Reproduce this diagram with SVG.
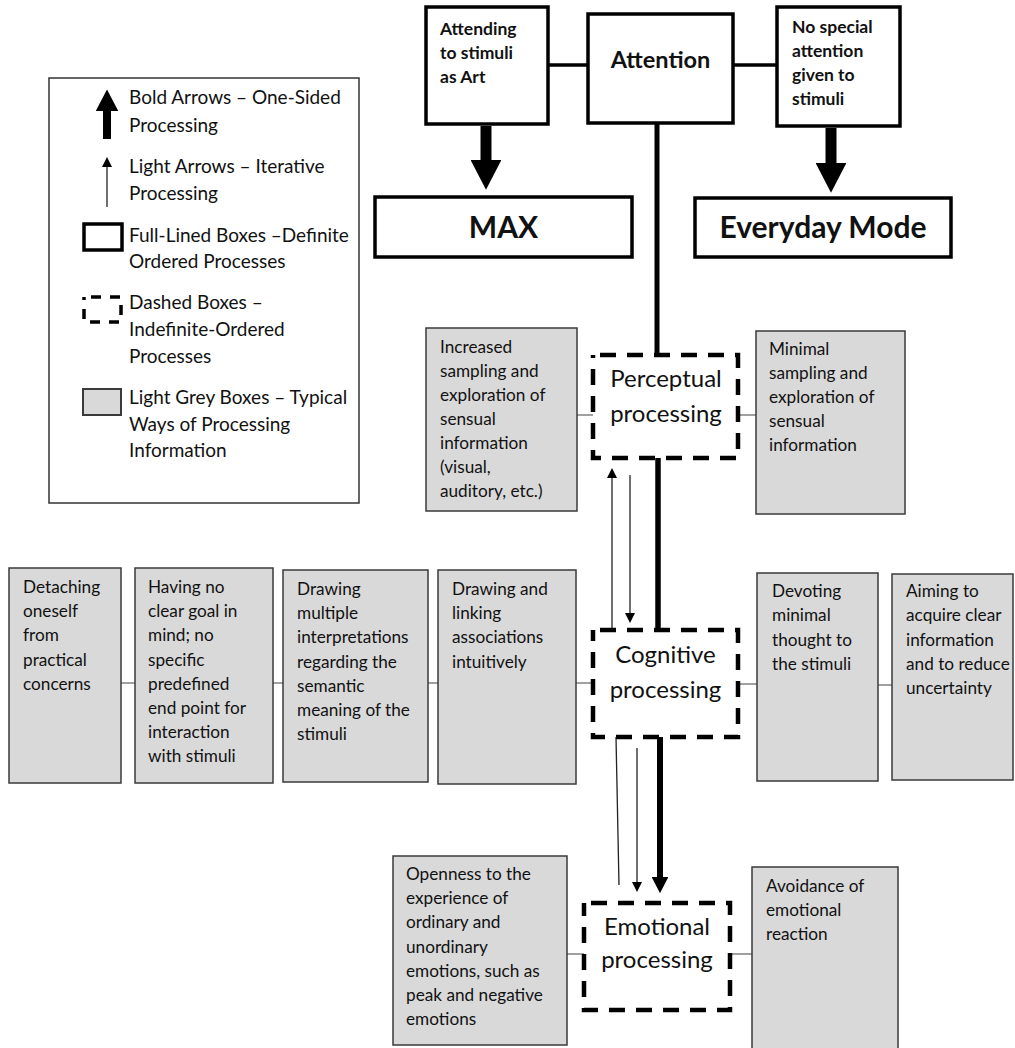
<svg xmlns="http://www.w3.org/2000/svg" width="1015" height="1048" viewBox="0 0 1015 1048">
<defs>
<style>
text{font-family:Lato,"Liberation Sans",sans-serif;fill:#111}
.full{fill:#fff;stroke:#000;stroke-width:3.5}
.dash{fill:#fff;stroke:#000;stroke-width:4.5;stroke-dasharray:16 11;stroke-dashoffset:20}
.grey{fill:#d9d9d9;stroke:#3a3a3a;stroke-width:1.5}
.gt{font-size:17.2px}
.lg{font-size:19px}
.big{font-size:24px;text-anchor:middle}
.bl{font-size:17.5px;font-weight:bold}
.att{font-size:23.5px;font-weight:bold;text-anchor:middle}
.mode{font-size:30px;font-weight:bold;text-anchor:middle}
.conn{stroke:#808080;stroke-width:1.5;fill:none}
.solid{stroke:#000;stroke-width:3.5;fill:none}
.bold{stroke:#000;fill:none;marker-end:url(#bh)}
.thin{stroke:#222;stroke-width:1.3;fill:none}
.thinA{stroke:#222;stroke-width:1.3;fill:none;marker-end:url(#th)}
</style>
<marker id="bh" markerUnits="strokeWidth" viewBox="0 0 2.7 2.8" markerWidth="2.7" markerHeight="2.8" refX="0" refY="1.4" orient="auto">
<path d="M0,0 L2.7,1.4 L0,2.8 z" fill="#000"/>
</marker>
<marker id="th" markerUnits="userSpaceOnUse" viewBox="0 0 10 10" markerWidth="10" markerHeight="10" refX="0" refY="5" orient="auto">
<path d="M0,0 L10,5 L0,10 z" fill="#000"/>
</marker>
</defs>
<rect width="1015" height="1048" fill="#fff"/>

<g id="connectors">
<line class="solid" x1="548" y1="65" x2="588" y2="65"/>
<line class="solid" x1="733" y1="65" x2="777" y2="65"/>
<line class="bold" stroke-width="11" x1="486" y1="126" x2="486" y2="160"/>
<line class="bold" stroke-width="11" x1="831" y1="128" x2="831" y2="163"/>
<line stroke="#000" stroke-width="5" x1="657" y1="123" x2="657" y2="355"/>
<line class="conn" x1="577" y1="415" x2="593" y2="415"/>
<line class="conn" x1="738" y1="415" x2="756" y2="415"/>
<line class="thinA" x1="612" y1="630" x2="612" y2="478"/>
<line class="thinA" x1="630" y1="475" x2="630" y2="613"/>
<line stroke="#000" stroke-width="5.5" x1="658" y1="458" x2="658" y2="630"/>
<line class="conn" x1="121" y1="683" x2="135" y2="683"/>
<line class="conn" x1="273" y1="683" x2="283" y2="683"/>
<line class="conn" x1="428" y1="683" x2="438" y2="683"/>
<line class="conn" x1="576" y1="683" x2="593" y2="683"/>
<line class="conn" x1="738" y1="684" x2="757" y2="684"/>
<line class="conn" x1="878" y1="685" x2="892" y2="685"/>
<line class="thin" x1="616" y1="737" x2="619" y2="885"/>
<line class="thinA" x1="637" y1="748" x2="637" y2="882"/>
<line class="bold" stroke-width="6" x1="660" y1="737" x2="660" y2="877"/>
<line class="conn" x1="567" y1="954" x2="584" y2="954"/>
<line class="conn" x1="730" y1="954" x2="752" y2="954"/>
</g>

<g id="legend">
<rect x="49" y="78" width="310" height="425" fill="#fff" stroke="#333" stroke-width="1.5"/>
<line class="bold" stroke-width="8" x1="107" y1="139" x2="107" y2="111"/>
<text class="lg" x="129" y="104">Bold Arrows – One-Sided</text>
<text class="lg" x="129" y="132">Processing</text>
<line class="thinA" x1="107" y1="207" x2="107" y2="167"/>
<text class="lg" x="129" y="173">Light Arrows – Iterative</text>
<text class="lg" x="129" y="200">Processing</text>
<rect x="84" y="224" width="38" height="26" fill="#fff" stroke="#000" stroke-width="3.5"/>
<text class="lg" x="129" y="242">Full-Lined Boxes –Definite</text>
<text class="lg" x="129" y="268">Ordered Processes</text>
<rect x="84" y="297" width="37" height="25" fill="#fff" stroke="#000" stroke-width="3.5" stroke-dasharray="10 9" stroke-dashoffset="-7"/>
<text class="lg" x="129" y="309">Dashed Boxes –</text>
<text class="lg" x="129" y="336">Indefinite-Ordered</text>
<text class="lg" x="129" y="363">Processes</text>
<rect x="83" y="389" width="38" height="26" fill="#d9d9d9" stroke="#3a3a3a" stroke-width="2"/>
<text class="lg" x="129" y="404">Light Grey Boxes – Typical</text>
<text class="lg" x="129" y="431">Ways of Processing</text>
<text class="lg" x="129" y="457">Information</text>
</g>

<g id="attending">
<rect class="full" x="426" y="7" width="122" height="117"/>
<text class="bl" x="440" y="35">Attending</text>
<text class="bl" x="440" y="59">to stimuli</text>
<text class="bl" x="440" y="83">as Art</text>
</g>
<g id="attention">
<rect class="full" x="588" y="14" width="145" height="109"/>
<text class="att" x="660.5" y="68">Attention</text>
</g>
<g id="no-special">
<rect class="full" x="777" y="7" width="123" height="119"/>
<text class="bl" x="792" y="33">No special</text>
<text class="bl" x="792" y="57">attention</text>
<text class="bl" x="792" y="81">given to</text>
<text class="bl" x="792" y="105">stimuli</text>
</g>
<g id="max">
<rect class="full" x="375" y="197" width="257" height="60"/>
<text class="mode" x="503.5" y="238">MAX</text>
</g>
<g id="everyday">
<rect class="full" x="695" y="198" width="256" height="59"/>
<text class="mode" x="823" y="238">Everyday Mode</text>
</g>

<g id="increased-sampling">
<rect class="grey" x="426" y="328" width="151" height="183"/>
<text class="gt" x="440" y="353">Increased</text>
<text class="gt" x="440" y="377">sampling and</text>
<text class="gt" x="440" y="401">exploration of</text>
<text class="gt" x="440" y="425">sensual</text>
<text class="gt" x="440" y="449">information</text>
<text class="gt" x="440" y="473">(visual,</text>
<text class="gt" x="440" y="497">auditory, etc.)</text>
</g>
<g id="perceptual">
<rect class="dash" x="593" y="355" width="145" height="103"/>
<text class="big" x="666" y="387">Perceptual</text>
<text class="big" x="666" y="422">processing</text>
</g>
<g id="minimal-sampling">
<rect class="grey" x="756" y="331" width="149" height="183"/>
<text class="gt" x="769" y="355">Minimal</text>
<text class="gt" x="769" y="379">sampling and</text>
<text class="gt" x="769" y="403">exploration of</text>
<text class="gt" x="769" y="427">sensual</text>
<text class="gt" x="769" y="451">information</text>
</g>

<g id="detaching">
<rect class="grey" x="9" y="568" width="112" height="215"/>
<text class="gt" x="23" y="593">Detaching</text>
<text class="gt" x="23" y="617">oneself</text>
<text class="gt" x="23" y="641">from</text>
<text class="gt" x="23" y="666">practical</text>
<text class="gt" x="23" y="690">concerns</text>
</g>
<g id="no-clear-goal">
<rect class="grey" x="135" y="568" width="138" height="215"/>
<text class="gt" x="148" y="593">Having no</text>
<text class="gt" x="148" y="617">clear goal in</text>
<text class="gt" x="148" y="641">mind; no</text>
<text class="gt" x="148" y="666">specific</text>
<text class="gt" x="148" y="690">predefined</text>
<text class="gt" x="148" y="714">end point for</text>
<text class="gt" x="148" y="738">interaction</text>
<text class="gt" x="148" y="762">with stimuli</text>
</g>
<g id="multiple-interpretations">
<rect class="grey" x="283" y="570" width="145" height="212"/>
<text class="gt" x="297" y="595">Drawing</text>
<text class="gt" x="297" y="619">multiple</text>
<text class="gt" x="297" y="643">interpretations</text>
<text class="gt" x="297" y="668">regarding the</text>
<text class="gt" x="297" y="692">semantic</text>
<text class="gt" x="297" y="716">meaning of the</text>
<text class="gt" x="297" y="740">stimuli</text>
</g>
<g id="linking-associations">
<rect class="grey" x="438" y="570" width="138" height="214"/>
<text class="gt" x="452" y="595">Drawing and</text>
<text class="gt" x="452" y="619">linking</text>
<text class="gt" x="452" y="643">associations</text>
<text class="gt" x="452" y="668">intuitively</text>
</g>
<g id="cognitive">
<rect class="dash" x="593" y="630" width="145" height="107"/>
<text class="big" x="665.5" y="663">Cognitive</text>
<text class="big" x="665.5" y="698">processing</text>
</g>
<g id="minimal-thought">
<rect class="grey" x="757" y="573" width="121" height="208"/>
<text class="gt" x="772" y="597">Devoting</text>
<text class="gt" x="772" y="621">minimal</text>
<text class="gt" x="772" y="646">thought to</text>
<text class="gt" x="772" y="670">the stimuli</text>
</g>
<g id="clear-information">
<rect class="grey" x="892" y="574" width="121" height="206"/>
<text class="gt" x="906" y="597">Aiming to</text>
<text class="gt" x="906" y="621">acquire clear</text>
<text class="gt" x="906" y="646">information</text>
<text class="gt" x="906" y="670">and to reduce</text>
<text class="gt" x="906" y="694">uncertainty</text>
</g>

<g id="openness">
<rect class="grey" x="393" y="856" width="174" height="189"/>
<text class="gt" x="406" y="880">Openness to the</text>
<text class="gt" x="406" y="904">experience of</text>
<text class="gt" x="406" y="928">ordinary and</text>
<text class="gt" x="406" y="953">unordinary</text>
<text class="gt" x="406" y="977">emotions, such as</text>
<text class="gt" x="406" y="1001">peak and negative</text>
<text class="gt" x="406" y="1025">emotions</text>
</g>
<g id="emotional">
<rect class="dash" x="584" y="903" width="146" height="107"/>
<text class="big" x="657" y="935">Emotional</text>
<text class="big" x="657" y="968">processing</text>
</g>
<g id="avoidance">
<rect class="grey" x="752" y="867" width="146" height="185"/>
<text class="gt" x="766" y="892">Avoidance of</text>
<text class="gt" x="766" y="916">emotional</text>
<text class="gt" x="766" y="940">reaction</text>
</g>
</svg>
